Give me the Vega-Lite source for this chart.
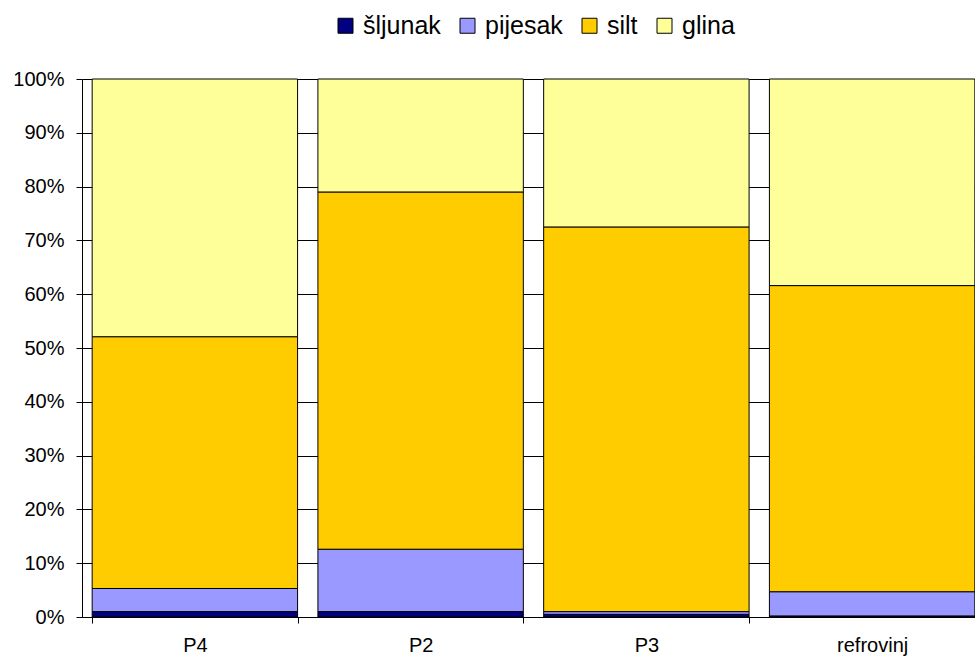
{
  "$schema": "https://vega.github.io/schema/vega-lite/v6.json",
  "width": 903,
  "height": 538,
  "autosize": "none",
  "padding": {"left": 82, "top": 79, "right": 0, "bottom": 43},
  "background": "white",
  "config": {
    "font": "Liberation Sans",
    "view": {"stroke": null},
    "axis": {"labelFont": "Liberation Sans", "labelColor": "black", "labelFontSize": 20, "domainColor": "black", "tickColor": "black", "tickSize": 6}
  },
  "data": {
    "values": [
      {"site": "P4", "fraction": "šljunak", "pct": 1.0},
      {"site": "P4", "fraction": "pijesak", "pct": 4.3},
      {"site": "P4", "fraction": "silt", "pct": 46.8},
      {"site": "P4", "fraction": "glina", "pct": 47.9},
      {"site": "P2", "fraction": "šljunak", "pct": 1.0},
      {"site": "P2", "fraction": "pijesak", "pct": 11.6},
      {"site": "P2", "fraction": "silt", "pct": 66.4},
      {"site": "P2", "fraction": "glina", "pct": 21.0},
      {"site": "P3", "fraction": "šljunak", "pct": 0.5},
      {"site": "P3", "fraction": "pijesak", "pct": 0.5},
      {"site": "P3", "fraction": "silt", "pct": 71.5},
      {"site": "P3", "fraction": "glina", "pct": 27.5},
      {"site": "refrovinj", "fraction": "šljunak", "pct": 0.2},
      {"site": "refrovinj", "fraction": "pijesak", "pct": 4.5},
      {"site": "refrovinj", "fraction": "silt", "pct": 56.9},
      {"site": "refrovinj", "fraction": "glina", "pct": 38.4}
    ]
  },
  "transform": [
    {"calculate": "indexof(['šljunak', 'pijesak', 'silt', 'glina'], datum.fraction)", "as": "stackOrder"}
  ],
  "mark": {"type": "bar", "stroke": "black", "strokeWidth": 1},
  "encoding": {
    "x": {
      "field": "site", "type": "nominal", "sort": ["P4", "P2", "P3", "refrovinj"],
      "scale": {"paddingInner": 0.09, "paddingOuter": 0.045},
      "axis": {"title": null, "labelAngle": 0, "tickBand": "extent", "labelPadding": 12, "grid": false}
    },
    "y": {
      "field": "pct", "type": "quantitative", "stack": "normalize",
      "scale": {"domain": [0, 1], "nice": false},
      "axis": {"title": null, "values": [0, 0.1, 0.2, 0.3, 0.4, 0.5, 0.6, 0.7, 0.8, 0.9, 1], "format": ".0%", "labelPadding": 12, "grid": true, "gridColor": "black", "gridOpacity": 1, "gridWidth": 1}
    },
    "order": {"field": "stackOrder", "type": "quantitative", "sort": "ascending"},
    "color": {
      "field": "fraction", "type": "nominal",
      "scale": {"domain": ["šljunak", "pijesak", "silt", "glina"], "range": ["#000080", "#9999FF", "#FFCC00", "#FFFF99"]},
      "legend": {
        "title": null, "orient": "none", "direction": "horizontal", "legendX": 251, "legendY": -66,
        "symbolType": "square", "symbolSize": 225, "symbolStrokeColor": "black", "symbolStrokeWidth": 1, "symbolOpacity": 1,
        "labelFontSize": 25, "labelColor": "black", "labelOffset": 5, "columnPadding": 14
      }
    }
  }
}
